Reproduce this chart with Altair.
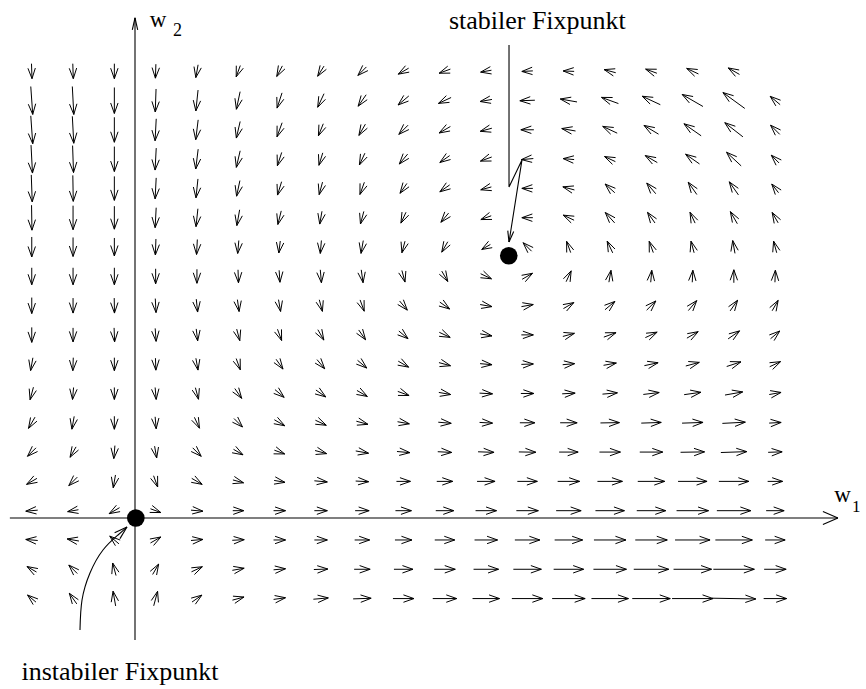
import math
import numpy as np
import pandas as pd
import altair as alt

# ---------------------------------------------------------------------------
# Flow field of the two weights (w1, w2), sampled on a regular grid.
# ---------------------------------------------------------------------------
W1_GRID = [-2.5, -1.5, -0.5, 0.5, 1.5, 2.5, 3.5, 4.5, 5.5, 6.5,
           7.5, 8.5, 9.5, 10.5, 11.5, 12.5, 13.5, 14.5, 15.5]
# rows listed from top (large w2) to bottom
W2_GRID = [15.25, 14.25, 13.25, 12.25, 11.25, 10.25, 9.25, 8.25, 7.25, 6.25,
           5.25, 4.25, 3.25, 2.25, 1.25, 0.25, -0.75, -1.75, -2.75]

# direction of the flow at each grid point (degrees, counter-clockwise from +w1)
DIRECTION = [
    [272, 272, 270, 268, 260, 250, 242, 238, 225, 210, 200, 190, 183, 178, 165, 160, 155, 150, None],
    [274, 273, 270, 268, 264, 258, 252, 245, 235, 220, 205, 190, 182, 170, 160, 155, 150, 144, 140],
    [274, 273, 270, 267, 263, 257, 250, 248, 240, 225, 210, 195, 180, 170, 155, 149, 145, 142, 135],
    [273, 272, 270, 267, 263, 257, 252, 253, 245, 230, 215, 200, 185, 175, 155, 150, 145, 137, 135],
    [272, 271, 270, 267, 264, 258, 253, 255, 250, 235, 215, 195, 180, 165, 138, 130, 125, 125, 128],
    [271, 270, 270, 267, 264, 260, 256, 260, 255, 245, 230, 200, 180, 155, 132, 125, 115, 120, 120],
    [270, 270, 270, 268, 267, 265, 263, 265, 260, 255, 240, 210, 135, 110, 115, 110, 105, 100, 105],
    [270, 270, 270, 270, 270, 272, 274, 275, 278, 285, 300, 335, 30, 65, 80, 85, 87, 90, 88],
    [270, 270, 271, 273, 276, 278, 280, 285, 290, 310, 325, 350, 10, 30, 40, 45, 50, 55, 60],
    [270, 270, 272, 274, 277, 285, 290, 300, 305, 320, 335, 350, 0, 15, 20, 25, 30, 35, 40],
    [260, 268, 270, 272, 280, 290, 305, 310, 320, 330, 345, 355, 2, 5, 10, 12, 15, 18, 25],
    [255, 265, 270, 275, 285, 305, 320, 325, 330, 340, 350, 357, 0, 3, 5, 7, 8, 10, 10],
    [240, 260, 270, 275, 295, 315, 330, 335, 345, 350, 355, 357, 0, 0, 1, 2, 2, 3, 3],
    [225, 240, 265, 280, 315, 330, 340, 345, 350, 355, 357, 358, 359, 0, 0, 0, 1, 2, 2],
    [210, 225, 260, 290, 330, 345, 350, 355, 357, 0, 0, 0, 0, 0, 0, 0, 0, 0, 0],
    [185, 190, 210, 340, 355, 0, 0, 0, 0, 0, 0, 0, 0, 0, 0, 0, 0, 0, 0],
    [175, 170, 140, 30, 5, 3, 0, 0, 0, 0, 0, 0, 0, 0, 0, 0, 0, 0, 0],
    [150, 135, 105, 60, 25, 10, 5, 2, 0, 0, 0, 0, 0, 0, 0, 0, 0, 0, 0],
    [140, 125, 100, 75, 35, 15, 8, 5, 2, 0, 0, 0, 0, 0, 0, 0, 0, 359, 0],
]

# speed of the flow at each grid point
SPEED = [
    [1.5, 1.5, 1.5, 1.4, 1.3, 1.2, 1.2, 1.2, 1.2, 1.2, 1.2, 1.1, 1.1, 1.1, 1.2, 1.2, 1.3, 1.3, None],
    [2.8, 2.8, 2.6, 2.3, 2.1, 1.8, 1.6, 1.5, 1.4, 1.4, 1.4, 1.2, 1.5, 1.7, 1.8, 2.0, 2.4, 2.7, 1.3],
    [2.8, 2.7, 2.5, 2.2, 2.0, 1.7, 1.5, 1.3, 1.3, 1.3, 1.3, 1.2, 1.3, 1.4, 1.6, 1.7, 2.1, 2.3, 1.3],
    [2.8, 2.7, 2.5, 2.2, 2.0, 1.7, 1.4, 1.3, 1.3, 1.3, 1.2, 1.2, 1.2, 1.1, 1.2, 1.4, 1.7, 2.0, 1.1],
    [2.7, 2.6, 2.4, 2.1, 1.9, 1.6, 1.4, 1.3, 1.3, 1.2, 1.2, 1.1, 1.1, 1.2, 1.3, 1.4, 1.5, 1.6, 1.1],
    [2.5, 2.4, 2.3, 2.0, 1.8, 1.6, 1.4, 1.3, 1.3, 1.2, 1.2, 1.1, 1.1, 1.2, 1.4, 1.3, 1.2, 1.4, 1.2],
    [2.0, 1.9, 1.8, 1.6, 1.5, 1.3, 1.2, 1.3, 1.3, 1.2, 1.2, 1.0, 1.2, 1.2, 1.3, 1.2, 1.2, 1.3, 1.2],
    [1.7, 1.7, 1.7, 1.5, 1.4, 1.3, 1.2, 1.3, 1.3, 1.2, 1.2, 1.2, 1.2, 1.2, 1.2, 1.2, 1.2, 1.3, 1.2],
    [1.6, 1.5, 1.5, 1.4, 1.3, 1.2, 1.2, 1.2, 1.2, 1.2, 1.2, 1.2, 1.2, 1.2, 1.3, 1.3, 1.3, 1.3, 1.2],
    [1.5, 1.4, 1.4, 1.3, 1.2, 1.2, 1.2, 1.2, 1.2, 1.2, 1.2, 1.2, 1.2, 1.2, 1.3, 1.3, 1.3, 1.4, 1.2],
    [1.3, 1.3, 1.3, 1.2, 1.2, 1.2, 1.2, 1.2, 1.2, 1.2, 1.2, 1.2, 1.2, 1.2, 1.3, 1.4, 1.4, 1.5, 1.2],
    [1.3, 1.2, 1.2, 1.2, 1.2, 1.2, 1.2, 1.2, 1.2, 1.2, 1.2, 1.3, 1.3, 1.3, 1.5, 1.6, 1.7, 1.8, 1.2],
    [1.3, 1.3, 1.3, 1.2, 1.2, 1.2, 1.2, 1.2, 1.2, 1.2, 1.3, 1.3, 1.5, 1.7, 1.9, 2.0, 2.1, 2.3, 1.2],
    [1.2, 1.2, 1.3, 1.2, 1.2, 1.1, 1.1, 1.2, 1.3, 1.3, 1.4, 1.6, 1.7, 1.9, 2.1, 2.3, 2.4, 2.6, 1.4],
    [1.2, 1.2, 1.3, 1.2, 1.2, 1.1, 1.1, 1.3, 1.3, 1.4, 1.6, 1.8, 2.0, 2.2, 2.5, 2.7, 2.9, 3.0, 1.5],
    [1.2, 1.1, 1.2, 1.1, 1.2, 1.1, 1.2, 1.3, 1.4, 1.6, 1.8, 2.1, 2.2, 2.5, 2.9, 2.9, 3.2, 3.4, 1.8],
    [1.2, 1.2, 1.2, 1.2, 1.2, 1.2, 1.2, 1.3, 1.5, 1.7, 2.0, 2.3, 2.5, 2.8, 3.2, 3.2, 3.5, 3.7, 2.0],
    [1.1, 1.2, 1.3, 1.2, 1.2, 1.2, 1.2, 1.4, 1.6, 1.9, 2.1, 2.5, 2.8, 3.0, 3.3, 3.5, 3.8, 4.1, 2.2],
    [1.1, 1.3, 1.5, 1.5, 1.2, 1.2, 1.2, 1.5, 1.8, 2.1, 2.4, 2.7, 3.1, 3.3, 3.7, 3.8, 4.1, 4.4, 2.3],
]

# fixed points of the dynamics
STABLE_FP = (9.05, 8.95)
UNSTABLE_FP = (0.02, 0.0)

# ---------------------------------------------------------------------------
# Drawing setup
# ---------------------------------------------------------------------------
WIDTH, HEIGHT = 866, 689
PX_W1, PX_W2 = 41.3, 29.3          # pixels per unit of w1 / w2
ORIGIN_PX = (135.0, 518.0)          # where (0, 0) sits in the figure
X_DOM = [-ORIGIN_PX[0] / PX_W1, (WIDTH - ORIGIN_PX[0]) / PX_W1]
Y_DOM = [-(HEIGHT - ORIGIN_PX[1]) / PX_W2, ORIGIN_PX[1] / PX_W2]

ARROW_PX = 10.0    # drawn length per unit of speed
HEAD_LEN = 10.5
HEAD_HALF = 3.7
FONT = "Liberation Serif"


def head(tip_x, tip_y, ang_deg, length, half):
    """Two barbs of an open arrowhead, in data units."""
    a = math.radians(ang_deg)
    ux, uy = math.cos(a), math.sin(a)          # screen-pixel direction (y up)
    nx, ny = -uy, ux
    out = []
    for s in (1, -1):
        px = -length * ux + s * half * nx
        py = -length * uy + s * half * ny
        out.append((tip_x, tip_y, tip_x + px / PX_W1, tip_y + py / PX_W2))
    return out


segs = []
for j, w2 in enumerate(W2_GRID):
    for i, w1 in enumerate(W1_GRID):
        ang, spd = DIRECTION[j][i], SPEED[j][i]
        if ang is None or spd is None:
            continue
        L = spd * ARROW_PX
        a = math.radians(ang)
        dx, dy = L * math.cos(a) / PX_W1, L * math.sin(a) / PX_W2
        x0, y0 = w1 - dx / 2, w2 - dy / 2
        x1, y1 = w1 + dx / 2, w2 + dy / 2
        segs.append((x0, y0, x1, y1))
        segs.extend(head(x1, y1, ang, min(HEAD_LEN, L), HEAD_HALF))

# coordinate axes with arrowheads
W1_AXIS = (-3.03, 17.02)
W2_AXIS = (-4.16, 17.07)
segs_axes = [(W1_AXIS[0], 0.0, W1_AXIS[1], 0.0), (0.0, W2_AXIS[0], 0.0, W2_AXIS[1])]
segs_axes += head(W1_AXIS[1], 0.0, 0, 15, 6.5)
segs_axes += head(0.0, W2_AXIS[1], 90, 12, 2.7)

# annotation pointers
STABLE_PTR = [(9.056, 16.14), (9.056, 11.30), (9.37, 12.22), (9.056, 9.42)]
UNSTABLE_PTR = [(-1.332, -3.823), (-1.283, -2.799), (-1.090, -1.877),
                (-0.775, -1.092), (-0.412, -0.580), (-0.194, -0.307)]


def px_angle(p, q):
    return math.degrees(math.atan2((q[1] - p[1]) * PX_W2, (q[0] - p[0]) * PX_W1))


segs_axes += head(*STABLE_PTR[-1], px_angle(STABLE_PTR[-2], STABLE_PTR[-1]), 11, 3)
segs_axes += head(*UNSTABLE_PTR[-1], px_angle(UNSTABLE_PTR[-2], UNSTABLE_PTR[-1]), 13, 4)

field_df = pd.DataFrame(segs, columns=["x", "y", "x2", "y2"])
axes_df = pd.DataFrame(segs_axes, columns=["x", "y", "x2", "y2"])

stable_df = pd.DataFrame([{"order": k, "x": a, "y": b} for k, (a, b) in enumerate(STABLE_PTR)])
unstable_df = pd.DataFrame([{"order": k, "x": a, "y": b} for k, (a, b) in enumerate(UNSTABLE_PTR)])

dots_df = pd.DataFrame({"x": [STABLE_FP[0], UNSTABLE_FP[0]], "y": [STABLE_FP[1], UNSTABLE_FP[1]]})

XS = alt.Scale(domain=X_DOM, nice=False, zero=False)
YS = alt.Scale(domain=Y_DOM, nice=False, zero=False)


def xy(xf="x", yf="y"):
    return dict(x=alt.X(f"{xf}:Q", scale=XS, axis=None),
                y=alt.Y(f"{yf}:Q", scale=YS, axis=None))


field = alt.Chart(field_df).mark_rule(color="black", strokeWidth=1.0).encode(
    **xy(), x2="x2:Q", y2="y2:Q")
axes = alt.Chart(axes_df).mark_rule(color="black", strokeWidth=1.1).encode(
    **xy(), x2="x2:Q", y2="y2:Q")
stable_line = alt.Chart(stable_df).mark_line(color="black", strokeWidth=1.1).encode(
    **xy(), order="order:Q")
unstable_line = alt.Chart(unstable_df).mark_line(
    color="black", strokeWidth=1.1, interpolate="natural").encode(**xy(), order="order:Q")
dots = alt.Chart(dots_df).mark_circle(color="black", opacity=1, size=310).encode(**xy())


def label(text, x, y, size):
    df = pd.DataFrame({"x": [x], "y": [y], "t": [text]})
    return alt.Chart(df).mark_text(
        font=FONT, fontSize=size, align="left", baseline="alphabetic", color="black"
    ).encode(**xy(), text="t:N")


labels = [
    label("stabiler Fixpunkt", 7.60, 16.69, 26),
    label("instabiler Fixpunkt", -2.75, -5.53, 26),
    label("w", 0.36, 16.76, 23),
    label("2", 0.92, 16.45, 18),
    label("w", 16.93, 0.55, 23),
    label("1", 17.36, 0.21, 17),
]

chart = alt.layer(field, axes, stable_line, unstable_line, dots, *labels).properties(
    width=WIDTH, height=HEIGHT, padding=0, autosize="none", background="white"
).configure_view(stroke=None)

chart.save("out.html", embed_options={"renderer": "svg", "actions": False})
